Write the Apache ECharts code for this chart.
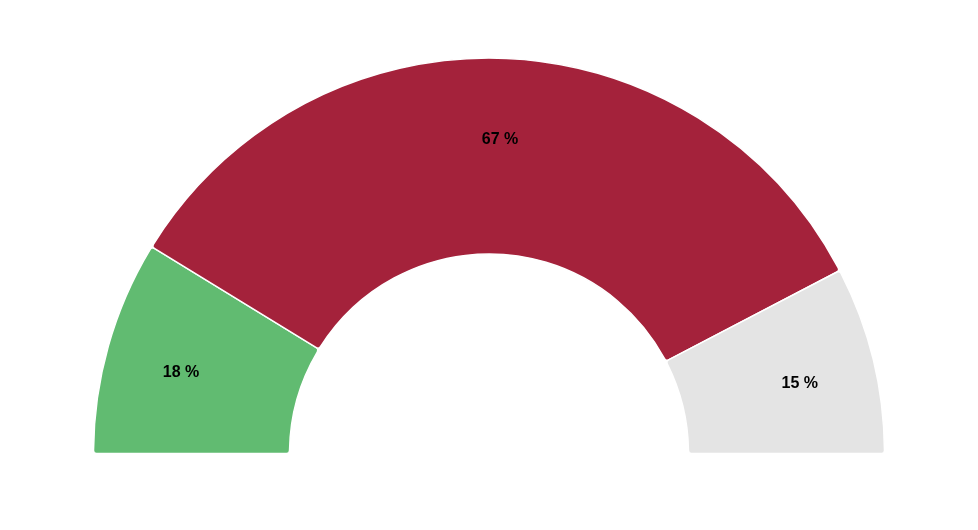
<!DOCTYPE html>
<html>
<head>
<meta charset="utf-8">
<script src="https://cdn.jsdelivr.net/npm/echarts@6/dist/echarts.min.js"></script>
<style>
  html, body { margin: 0; padding: 0; background: #fff; }
  #chart { width: 978px; height: 530px; }
</style>
</head>
<body>
<div id="chart"></div>
<script>
const names = ["A", "B", "C"];
const values = [17.5, 67.2, 15.3];
const colors = ["#61bb71", "#a4223b", "#e4e4e4"];

const chart = echarts.init(document.getElementById("chart"));

const pieData = values.map((v, i) => ({
  name: names[i],
  value: v,
  itemStyle: { color: colors[i] }
}));

const labelData = values.map((v, i) => ({
  name: names[i],
  value: v
}));

chart.setOption({
  animation: false,
  series: [
    {
      type: "pie",
      center: [489, 453.5],
      radius: [199.5, 395.5],
      startAngle: 180,
      endAngle: 0,
      clockwise: true,
      silent: true,
      itemStyle: {
        borderColor: "#fff",
        borderWidth: 1.5,
        borderRadius: 3
      },
      label: { show: false },
      labelLine: { show: false },
      data: pieData
    },
    {
      // label ring, sits further out than the slice middle
      type: "pie",
      center: [489, 453.5],
      radius: [238, 396],
      startAngle: 180,
      endAngle: 0,
      clockwise: true,
      silent: true,
      itemStyle: { color: "transparent", borderWidth: 0 },
      label: {
        position: "inside",
        offset: [0, 6],
        formatter: p => Math.round(p.value) + " %",
        color: "#000",
        fontFamily: "Liberation Sans, Arial, sans-serif",
        fontWeight: "bold",
        fontSize: 16
      },
      labelLine: { show: false },
      data: labelData
    }
  ]
});
</script>
</body>
</html>
